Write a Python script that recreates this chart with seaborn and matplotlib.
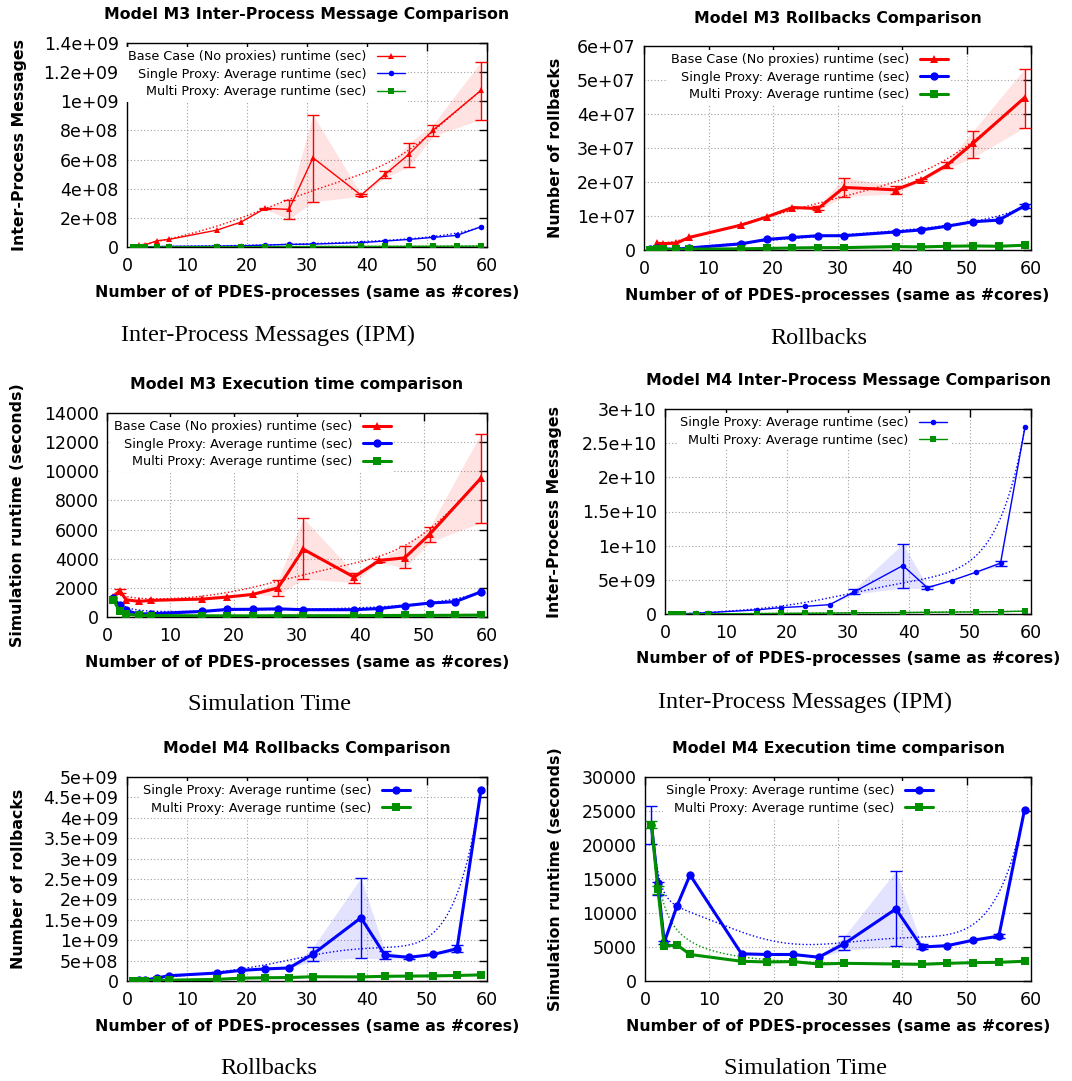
import numpy as np
import matplotlib
matplotlib.use("Agg")
import matplotlib.pyplot as plt
import seaborn as sns
from math import comb

sns.set_style("white")
plt.rcParams["font.family"] = ["DejaVu Sans"]
plt.rcParams["text.color"] = "black"
plt.rcParams["axes.labelcolor"] = "black"

# ---------------- data ----------------
X = [1, 2, 3, 5, 7, 15, 19, 23, 27, 31, 39, 43, 47, 51, 55, 59]
X_BASE = [2, 3, 5, 7, 15, 19, 23, 27, 31, 39, 43, 47, 51, 59]
X_BASE_T = [1, 2, 3, 5, 7, 15, 19, 23, 27, 31, 39, 43, 47, 51, 59]

# Model M3 inter-process messages
m3_ipm_base = [1.5e7, 1.4e7, 4.3e7, 5.2e7, 1.16e8, 1.71e8, 2.65e8, 2.58e8, 6.12e8, 3.56e8, 4.98e8, 6.37e8, 8.01e8, 1.075e9]
m3_ipm_base_lo = [1.5e7, 1.4e7, 4.3e7, 5.2e7, 1.16e8, 1.71e8, 2.6e8, 1.9e8, 3.1e8, 3.48e8, 4.75e8, 5.5e8, 7.6e8, 8.75e8]
m3_ipm_base_hi = [1.5e7, 1.4e7, 4.3e7, 5.2e7, 1.16e8, 1.71e8, 2.7e8, 3.2e8, 9.07e8, 3.64e8, 5.2e8, 7.15e8, 8.4e8, 1.272e9]
m3_ipm_single = [0.2e6, 1e6, 1.5e6, 3e6, 4e6, 6e6, 8e6, 1.3e7, 1.8e7, 2e7, 3e7, 4.1e7, 5.2e7, 6.6e7, 8e7, 1.39e8]
m3_ipm_multi = [0.5e6, 0.6e6, 0.7e6, 1e6, 1.2e6, 2e6, 2.3e6, 2.6e6, 3e6, 3.2e6, 3.8e6, 4.2e6, 4.6e6, 5e6, 5.4e6, 6e6]

# Model M3 rollbacks
m3_rb_base = [1.95e6, 1.9e6, 2.0e6, 3.7e6, 7.3e6, 9.7e6, 1.25e7, 1.22e7, 1.84e7, 1.77e7, 2.06e7, 2.5e7, 3.14e7, 4.48e7]
m3_rb_base_lo = [1.95e6, 1.9e6, 2.0e6, 3.7e6, 7.3e6, 9.7e6, 1.25e7, 1.17e7, 1.57e7, 1.65e7, 2.03e7, 2.4e7, 2.72e7, 3.6e7]
m3_rb_base_hi = [1.95e6, 1.9e6, 2.0e6, 3.7e6, 7.3e6, 9.7e6, 1.25e7, 1.28e7, 2.13e7, 1.88e7, 2.1e7, 2.6e7, 3.5e7, 5.33e7]
m3_rb_single = [0.3e6, 0.5e6, 0.3e6, 0.2e6, 0.6e6, 1.8e6, 3.1e6, 3.7e6, 4.2e6, 4.2e6, 5.3e6, 5.9e6, 7.0e6, 8.3e6, 8.8e6, 1.3e7]
m3_rb_single_lo = [0.3e6, 0.5e6, 0.3e6, 0.2e6, 0.6e6, 1.8e6, 3.1e6, 3.7e6, 4.2e6, 4.2e6, 5.3e6, 5.9e6, 7.0e6, 8.3e6, 8.8e6, 1.25e7]
m3_rb_single_hi = [0.3e6, 0.5e6, 0.3e6, 0.2e6, 0.6e6, 1.8e6, 3.1e6, 3.7e6, 4.2e6, 4.2e6, 5.3e6, 5.9e6, 7.0e6, 8.3e6, 8.8e6, 1.35e7]
m3_rb_multi = [0.1e6, 0.15e6, 0.15e6, 0.2e6, 0.25e6, 0.35e6, 0.45e6, 0.6e6, 0.7e6, 0.7e6, 1.0e6, 0.9e6, 1.1e6, 1.2e6, 1.1e6, 1.4e6]

# Model M3 execution time (seconds)
m3_time_base = [1400, 1800, 1190, 1070, 1140, 1230, 1370, 1550, 2000, 4650, 2740, 3880, 4060, 5700, 9510]
m3_time_base_lo = [1400, 1650, 1190, 1070, 1140, 1230, 1370, 1550, 1450, 2620, 2350, 3800, 3330, 5150, 6460]
m3_time_base_hi = [1400, 1950, 1190, 1070, 1140, 1230, 1370, 1550, 2530, 6780, 3050, 3950, 4850, 6200, 12570]
m3_time_single = [1300, 800, 450, 200, 230, 380, 520, 530, 560, 500, 500, 580, 770, 960, 1050, 1720]
m3_time_multi = [1180, 400, 180, 120, 100, 80, 80, 80, 90, 90, 90, 100, 110, 110, 120, 130]

# Model M4 inter-process messages
m4_ipm_single = [2e7, 3e7, 4e7, 1e8, 2e8, 6e8, 9.3e8, 1.12e9, 1.37e9, 3.23e9, 7.09e9, 3.86e9, 4.89e9, 6.12e9, 7.44e9, 2.73e10]
m4_ipm_single_lo = [2e7, 3e7, 4e7, 1e8, 2e8, 6e8, 9.3e8, 1.12e9, 1.37e9, 2.9e9, 3.8e9, 3.7e9, 4.89e9, 6.12e9, 7.0e9, 2.73e10]
m4_ipm_single_hi = [2e7, 3e7, 4e7, 1e8, 2e8, 6e8, 9.3e8, 1.12e9, 1.37e9, 3.6e9, 1.03e10, 4.1e9, 4.89e9, 6.12e9, 7.8e9, 2.73e10]
m4_ipm_multi = [0.5e7, 0.8e7, 1e7, 2e7, 3e7, 6e7, 9e7, 1.1e8, 1.3e8, 1.8e8, 2.1e8, 2.5e8, 2.8e8, 3.1e8, 3.4e8, 4.2e8]

# Model M4 rollbacks
m4_rb_single = [1e7, 2e7, 2e7, 7.5e7, 1.3e8, 1.95e8, 2.6e8, 2.95e8, 3.2e8, 6.6e8, 1.55e9, 6.3e8, 5.8e8, 6.5e8, 7.9e8, 4.68e9]
m4_rb_single_lo = [1e7, 2e7, 2e7, 7.5e7, 1.3e8, 1.95e8, 2.6e8, 2.95e8, 3.2e8, 4.8e8, 5.7e8, 5.3e8, 5.5e8, 6.5e8, 7.0e8, 4.68e9]
m4_rb_single_hi = [1e7, 2e7, 2e7, 7.5e7, 1.3e8, 1.95e8, 2.6e8, 2.95e8, 3.2e8, 8.3e8, 2.53e9, 7.3e8, 6.1e8, 6.5e8, 8.8e8, 4.68e9]
m4_rb_multi = [5e6, 5e6, 6e6, 1.5e7, 2e7, 4e7, 7e7, 8e7, 8.5e7, 1.05e8, 1.0e8, 1.15e8, 1.2e8, 1.25e8, 1.35e8, 1.5e8]

# Model M4 execution time (seconds)
m4_time_single = [23000, 14400, 5700, 11100, 15600, 4000, 3900, 3900, 3500, 5500, 10600, 5000, 5200, 6000, 6600, 25200]
m4_time_single_lo = [20200, 12700, 5500, 11100, 15600, 4000, 3900, 3900, 3500, 4500, 5100, 4700, 5200, 6000, 6300, 25200]
m4_time_single_hi = [25700, 14500, 5900, 11100, 15600, 4000, 3900, 3900, 3500, 6600, 16200, 5400, 5200, 6000, 6900, 25200]
m4_time_multi = [23000, 13500, 5100, 5300, 3900, 2900, 2800, 2850, 2500, 2600, 2500, 2450, 2600, 2700, 2750, 2900]
m4_time_multi_lo = [22500, 12800, 5100, 5300, 3900, 2900, 2800, 2850, 2500, 2600, 2500, 2450, 2600, 2700, 2750, 2900]
m4_time_multi_hi = [23500, 14000, 5100, 5300, 3900, 2900, 2800, 2850, 2500, 2600, 2500, 2450, 2600, 2700, 2750, 2900]

X_TICKS = [0, 10, 20, 30, 40, 50, 60]
m3_ipm_ticks = ["0", "2e+08", "4e+08", "6e+08", "8e+08", "1e+09", "1.2e+09", "1.4e+09"]
m3_rb_ticks = ["0", "1e+07", "2e+07", "3e+07", "4e+07", "5e+07", "6e+07"]
m3_time_ticks = ["0", "2000", "4000", "6000", "8000", "10000", "12000", "14000"]
m4_ipm_ticks = ["0", "5e+09", "1e+10", "1.5e+10", "2e+10", "2.5e+10", "3e+10"]
m4_rb_ticks = ["0", "5e+08", "1e+09", "1.5e+09", "2e+09", "2.5e+09", "3e+09", "3.5e+09", "4e+09", "4.5e+09", "5e+09"]
m4_time_ticks = ["0", "5000", "10000", "15000", "20000", "25000", "30000"]

LBL_BASE = "Base Case (No proxies) runtime (sec)"
LBL_SINGLE = "Single Proxy: Average runtime (sec)"
LBL_MULTI = "Multi Proxy: Average runtime (sec)"
XLABEL = "Number of of PDES-processes (same as #cores)"

RED = "#ff0000"
BLUE = "#0000ff"
GREEN = "#009000"

W, H = 1072, 1081
fig = plt.figure(figsize=(W / 100, H / 100), dpi=100)

LABEL_FS = 11.3
TICK_FS = 12.5


def bezier(xs, ys, n=300):
    """Bezier smoothing through all control points (gnuplot 'smooth bezier')."""
    xs = np.asarray(xs, float)
    ys = np.asarray(ys, float)
    N = len(xs) - 1
    t = np.linspace(0, 1, n)
    bx = np.zeros_like(t)
    by = np.zeros_like(t)
    for i in range(N + 1):
        b = comb(N, i) * t ** i * (1 - t) ** (N - i)
        bx += b * xs[i]
        by += b * ys[i]
    return bx, by


def series(ax, x, y, color, marker, label, lw, ms, lo=None, hi=None):
    x = np.asarray(x, float)
    y = np.asarray(y, float)
    if lo is not None:
        lo = np.asarray(lo, float)
        hi = np.asarray(hi, float)
        ax.fill_between(x, lo, hi, color=color, alpha=0.11, lw=0, zorder=1)
    bx, by = bezier(x, y)
    ax.plot(bx, by, color=color, lw=1.0, ls=(0, (1, 1.6)), zorder=2)
    if lo is not None:
        m = (hi - lo) > 0
        ax.errorbar(x[m], y[m], yerr=[y[m] - lo[m], hi[m] - y[m]], fmt="none",
                    ecolor=color, elinewidth=1.0, capsize=4, capthick=1.0, zorder=3)
    sns.lineplot(x=x, y=y, ax=ax, color=color, marker=marker, lw=lw, ms=ms,
                 mec=color, mew=0, label=label, estimator=None, sort=False, zorder=4)


def panel(rect, title, ylabel, yticklabels, ystep, ylab_x, legend_anchor):
    l, t, r, b = rect
    ax = fig.add_axes([l / W, 1 - b / H, (r - l) / W, (b - t) / H])
    hpx = b - t
    ax.set_xlim(0, 60)
    ax.set_ylim(0, ystep * (len(yticklabels) - 1))
    ax.set_xticks(X_TICKS)
    ax.set_yticks([ystep * i for i in range(len(yticklabels))])
    ax.set_yticklabels(yticklabels)
    ax.tick_params(direction="in", top=True, right=True, length=6, width=1,
                   labelsize=TICK_FS, colors="black")
    ax.tick_params(axis="y", pad=6)
    ax.tick_params(axis="x", pad=7)
    ax.grid(True, color="#a0a0a0", ls=(0, (1, 2)), lw=0.8)
    ax.set_axisbelow(True)
    for s in ax.spines.values():
        s.set_color("black")
        s.set_linewidth(1.0)
    ax.text(0.5, 1 + 28 / hpx, title, transform=ax.transAxes, ha="center",
            va="center", fontsize=LABEL_FS, fontweight="bold", color="black")
    ax.set_xlabel(XLABEL, fontsize=LABEL_FS, fontweight="bold", color="black")
    ax.xaxis.set_label_coords(0.5, -45 / hpx)
    ax.xaxis.label.set_va("center")
    ax.set_ylabel(ylabel, fontsize=LABEL_FS, fontweight="bold", color="black")
    ax.yaxis.set_label_coords((ylab_x - l) / (r - l), 0.5)
    ax.yaxis.label.set_va("center")
    ax._legend_anchor = ((legend_anchor - l + 3) / (r - l), 1 - 4 / hpx)
    return ax


def finish_legend(ax):
    leg = ax.legend(loc="upper right", bbox_to_anchor=ax._legend_anchor,
                    markerfirst=False, frameon=True, framealpha=1,
                    facecolor="white", edgecolor="none", fancybox=False,
                    fontsize=9.2, handlelength=2.2, handletextpad=0.8,
                    labelspacing=0.36, borderpad=0.25, borderaxespad=0)
    for t in leg.get_texts():
        t.set_color("black")
    leg.set_zorder(10)


# Model M3 inter-process messages
ax1 = panel((127, 43, 487, 247), "Model M3 Inter-Process Message Comparison",
            "Inter-Process Messages", m3_ipm_ticks, 2e8, 20, 405)
series(ax1, X_BASE, m3_ipm_base, RED, "^", LBL_BASE, 1.0, 4, m3_ipm_base_lo, m3_ipm_base_hi)
series(ax1, X, m3_ipm_single, BLUE, "o", LBL_SINGLE, 1.0, 4)
series(ax1, X, m3_ipm_multi, GREEN, "s", LBL_MULTI, 1.0, 4)
finish_legend(ax1)

# Model M3 rollbacks
ax2 = panel((644, 46, 1031, 250), "Model M3 Rollbacks Comparison",
            "Number of rollbacks", m3_rb_ticks, 1e7, 555, 948)
series(ax2, X_BASE, m3_rb_base, RED, "^", LBL_BASE, 2.2, 6, m3_rb_base_lo, m3_rb_base_hi)
series(ax2, X, m3_rb_single, BLUE, "o", LBL_SINGLE, 2.2, 6, m3_rb_single_lo, m3_rb_single_hi)
series(ax2, X, m3_rb_multi, GREEN, "s", LBL_MULTI, 2.2, 6)
finish_legend(ax2)

# Model M3 execution time
ax3 = panel((107, 413, 487, 617), "Model M3 Execution time comparison",
            "Simulation runtime (seconds)", m3_time_ticks, 2000, 18, 391)
series(ax3, X_BASE_T, m3_time_base, RED, "^", LBL_BASE, 2.2, 6, m3_time_base_lo, m3_time_base_hi)
series(ax3, X, m3_time_single, BLUE, "o", LBL_SINGLE, 2.2, 6)
series(ax3, X, m3_time_multi, GREEN, "s", LBL_MULTI, 2.2, 6)
finish_legend(ax3)

# Model M4 inter-process messages
ax4 = panel((665, 409, 1031, 614), "Model M4 Inter-Process Message Comparison",
            "Inter-Process Messages", m4_ipm_ticks, 5e9, 555, 947)
series(ax4, X, m4_ipm_single, BLUE, "o", LBL_SINGLE, 1.0, 4, m4_ipm_single_lo, m4_ipm_single_hi)
series(ax4, X, m4_ipm_multi, GREEN, "s", LBL_MULTI, 1.0, 4)
finish_legend(ax4)

# Model M4 rollbacks
ax5 = panel((127, 777, 487, 981), "Model M4 Rollbacks Comparison",
            "Number of rollbacks", m4_rb_ticks, 5e8, 19, 410)
series(ax5, X, m4_rb_single, BLUE, "o", LBL_SINGLE, 2.2, 6, m4_rb_single_lo, m4_rb_single_hi)
series(ax5, X, m4_rb_multi, GREEN, "s", LBL_MULTI, 2.2, 6)
finish_legend(ax5)

# Model M4 execution time
ax6 = panel((645, 777, 1031, 981), "Model M4 Execution time comparison",
            "Simulation runtime (seconds)", m4_time_ticks, 5000, 555, 933)
series(ax6, X, m4_time_single, BLUE, "o", LBL_SINGLE, 2.2, 6, m4_time_single_lo, m4_time_single_hi)
series(ax6, X, m4_time_multi, GREEN, "s", LBL_MULTI, 2.2, 6, m4_time_multi_lo, m4_time_multi_hi)
finish_legend(ax6)

# sub-figure captions
captions = [("Inter-Process Messages (IPM)", 268, 335), ("Rollbacks", 819, 338),
            ("Simulation Time", 269, 705), ("Inter-Process Messages (IPM)", 805, 702),
            ("Rollbacks", 269, 1068), ("Simulation Time", 805, 1068)]
for txt, cx, cy in captions:
    fig.text(cx / W, 1 - cy / H, txt, ha="center", va="center",
             family="Liberation Serif", fontsize=17.5, color="black")

fig.savefig("out.png", dpi=100, facecolor="white")
